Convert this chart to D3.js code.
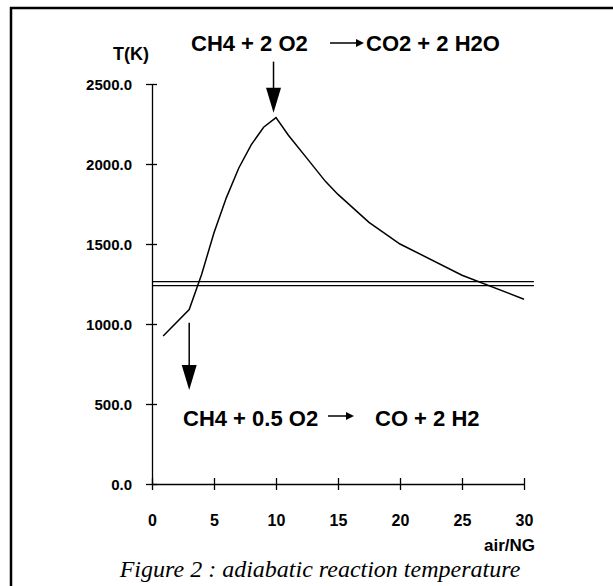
<!DOCTYPE html>
<html>
<head>
<meta charset="utf-8">
<script src="https://cdn.jsdelivr.net/npm/d3@7"></script>
<style>
  body { margin:0; background:#fff; }
  .canvas { width:613px; height:586px; }
  text { font-family: "Liberation Sans", Arial, Helvetica, sans-serif; font-weight:bold; fill:#000; }
  .caption { font-family: "Liberation Serif", "Times New Roman", serif; font-weight:normal; font-style:italic; }
</style>
</head>
<body>
<div class="canvas" id="canvas"></div>
<script>
// air / natural gas ratio and adiabatic temperature (K)
var airNG = [0.9, 3, 4, 5, 6, 7, 8, 9, 10, 11, 12.5, 14, 15, 17.5, 20, 25, 30];
var tempK = [925, 1090, 1310, 1570, 1790, 1975, 2120, 2230, 2290, 2180, 2035, 1890, 1810, 1635, 1500, 1305, 1155];
// double horizontal limit line
var limitT = [1265, 1240];
var xTicks = [0, 5, 10, 15, 20, 25, 30];
var yTicks = [0, 500, 1000, 1500, 2000, 2500];

var m = {t:84, l:152};
var outerWidth = 613, outerHeight = 586;
var w = 372, h = 400;

var svg = d3.select('.canvas')
    .append('svg')
    .attr('width', outerWidth)
    .attr('height', outerHeight);

// frame (open at right and bottom)
svg.append('path')
    .attr('d', 'M11,' + outerHeight + 'V8H' + outerWidth)
    .style('fill', 'none')
    .style('stroke', '#000')
    .style('stroke-width', 2.5);

var plot = svg.append('g')
    .attr('transform', 'translate(' + m.l + ',' + m.t + ')');

var scaleX = d3.scaleLinear().domain([0, 30]).range([0, w]);
var scaleY = d3.scaleLinear().domain([0, 2500]).range([h, 0]);

var axisX = d3.axisBottom(scaleX)
    .tickValues(xTicks)
    .tickFormat(d3.format('d'))
    .tickSizeOuter(0)
    .tickPadding(0);
var axisY = d3.axisLeft(scaleY)
    .tickValues(yTicks)
    .tickFormat(d3.format('.1f'))
    .tickSizeOuter(0);

var gx = plot.append('g')
    .attr('transform', 'translate(0,' + h + ')')
    .call(axisX);
gx.selectAll('.tick line').attr('y1', -6).attr('y2', 6);
gx.selectAll('.tick text').attr('y', 42).attr('dy', 0)
    .style('font-size', '16px');

var gy = plot.append('g').call(axisY);
gy.selectAll('.tick line').attr('x1', -6).attr('x2', 5);
gy.selectAll('.tick text').attr('x', -20).attr('dy', '0.36em')
    .style('font-size', '15px');

svg.selectAll('.domain, .tick line')
    .style('stroke', '#000')
    .style('stroke-width', 1.3);
svg.selectAll('.tick text').style('font-family', null);

// limit lines
plot.selectAll('.limit')
    .data(limitT)
    .enter()
    .append('line')
    .attr('class', 'limit')
    .attr('x1', 0)
    .attr('x2', scaleX(30.8))
    .attr('y1', function(d){ return scaleY(d); })
    .attr('y2', function(d){ return scaleY(d); })
    .style('stroke', '#000')
    .style('stroke-width', 1.3);

// temperature curve
var rows = airNG.map(function(x, i){ return {x:x, t:tempK[i]}; });
var line = d3.line()
    .x(function(d){ return scaleX(d.x); })
    .y(function(d){ return scaleY(d.t); });
plot.append('path')
    .datum(rows)
    .attr('d', line)
    .style('fill', 'none')
    .style('stroke', '#000')
    .style('stroke-width', 1.5);

// vertical arrows
function downArrow(x, t0, t1) {
    var px = scaleX(x), y0 = scaleY(t0), y1 = scaleY(t1);
    plot.append('line')
        .attr('x1', px).attr('x2', px)
        .attr('y1', y0).attr('y2', y1 - 20)
        .style('stroke', '#000').style('stroke-width', 1.5);
    plot.append('path')
        .attr('d', 'M' + (px - 7.5) + ',' + (y1 - 25) + 'L' + (px + 7.5) + ',' + (y1 - 25) + 'L' + px + ',' + y1 + 'Z')
        .style('fill', '#000');
}
downArrow(9.8, 2640, 2320);
downArrow(3.0, 1008, 587);

// small right arrows within equations
function rightArrow(x0, x1, y) {
    svg.append('line')
        .attr('x1', x0).attr('x2', x1 - 6)
        .attr('y1', y).attr('y2', y)
        .style('stroke', '#000').style('stroke-width', 1.5);
    svg.append('path')
        .attr('d', 'M' + (x1 - 8) + ',' + (y - 4) + 'L' + x1 + ',' + y + 'L' + (x1 - 8) + ',' + (y + 4) + 'Z')
        .style('fill', '#000');
}

// equations
svg.append('text').attr('x', 191).attr('y', 51).style('font-size', '22px').text('CH4 + 2 O2');
rightArrow(330, 364, 43);
svg.append('text').attr('x', 366).attr('y', 51).style('font-size', '22px').text('CO2 + 2 H2O');

svg.append('text').attr('x', 183).attr('y', 426).style('font-size', '22px').text('CH4 + 0.5 O2');
rightArrow(328, 354, 416);
svg.append('text').attr('x', 375).attr('y', 426).style('font-size', '22px').text('CO + 2 H2');

// axis titles
svg.append('text').attr('x', 113).attr('y', 60).style('font-size', '18px').text('T(K)');
svg.append('text').attr('x', 535).attr('y', 551).attr('text-anchor', 'end').style('font-size', '17px').text('air/NG');

// caption
svg.append('text').attr('class', 'caption')
    .attr('x', 320).attr('y', 577)
    .attr('text-anchor', 'middle')
    .style('font-size', '24px')
    .text('Figure 2 : adiabatic reaction temperature');
</script>
</body>
</html>
